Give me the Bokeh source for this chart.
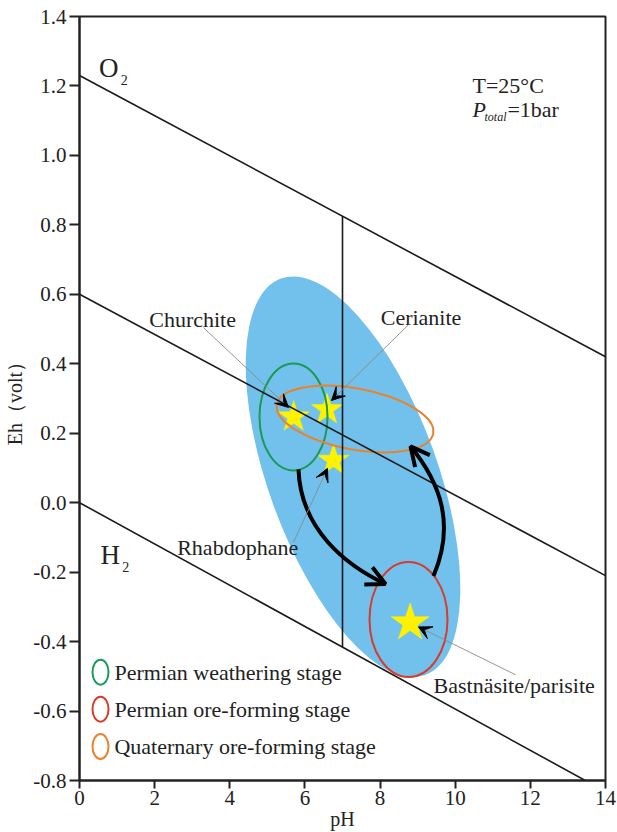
from bokeh.plotting import figure
from bokeh.models import (Arrow, OpenHead, VeeHead, FixedTicker, Label,
                          ColumnDataSource, PrintfTickFormatter)
from bokeh.core.properties import value
from bokeh.embed import file_html
from bokeh.resources import INLINE

SERIF = "Liberation Serif"
TXT = "#222222"

# ---- data ----
# stability boundary lines (pH, Eh)
o2_ph = [0, 14]
o2_eh = [1.23, 0.42]
mid_ph = [0, 14]
mid_eh = [0.60, -0.21]
h2_ph = [0, 14]
h2_eh = [0.0, -0.832]
vert_ph = [7.0, 7.0]
vert_eh = [-0.416, 0.825]

# minerals (stars)
mineral_names = ["Churchite", "Cerianite", "Rhabdophane", "Bastnäsite/parisite"]
mineral_ph = [5.70, 6.59, 6.76, 8.80]
mineral_eh = [0.247, 0.268, 0.122, -0.346]
mineral_size = [33, 33, 33, 40]

# mineral label positions and leader-line starts
label_ph = [3.01, 9.09, 4.21, 11.57]
label_eh = [0.527, 0.534, -0.128, -0.527]
leader_ph0 = [3.30, 8.757, 5.696, 11.605]
leader_eh0 = [0.504, 0.5125, -0.1136, -0.4956]
leader_ph1 = [5.563, 6.707, 6.601, 9.023]
leader_eh1 = [0.2742, 0.2943, 0.0989, -0.3577]

# field (blue), stage ellipses (center pH, Eh; size in px; angle rad)
field_ph, field_eh, field_w, field_h, field_ang = 7.28, 0.0746, 422, 169, -1.2217
stage_names = ["Permian weathering stage", "Permian ore-forming stage",
               "Quaternary ore-forming stage"]
stage_colors = ["#1a9a55", "#d93a2b", "#e8822e"]
stage_ph = [5.696, 8.757, 7.333]
stage_eh = [0.2469, -0.3362, 0.2411]
stage_w = [68, 78, 159]
stage_h = [107, 115, 61]
stage_ang = [0.0, 0.0, -0.185]

# evolution arrows (cubic bezier: start, ctrl1, ctrl2, end)
evo_x0 = [5.829, 9.422]
evo_y0 = [0.0961, -0.2112]
evo_cx0 = [5.882, 10.008]
evo_cy0 = [-0.0762, -0.0619]
evo_cx1 = [7.080, 9.609]
evo_cy1 = [-0.1796, 0.0559]
evo_x1 = [8.145, 8.810]
evo_y1 = [-0.2342, 0.1622]

x_ticks = [0, 2, 4, 6, 8, 10, 12, 14]
y_ticks = [-0.8, -0.6, -0.4, -0.2, 0.0, 0.2, 0.4, 0.6, 0.8, 1.0, 1.2, 1.4]

p = figure(width=617, height=832, x_range=(0, 14), y_range=(-0.8, 1.4),
           output_backend="svg", toolbar_location=None,
           min_border_left=79, min_border_right=12, min_border_top=16,
           min_border_bottom=50)
p.xgrid.visible = False
p.ygrid.visible = False
p.background_fill_color = "white"
p.border_fill_color = "white"
p.outline_line_color = "#222222"
p.outline_line_width = 2

for ax in (p.xaxis[0], p.yaxis[0]):
    ax.axis_line_width = 2
    ax.axis_line_color = "#222222"
    ax.major_tick_line_width = 2
    ax.major_tick_line_color = "#222222"
    ax.major_tick_in = 0
    ax.minor_tick_in = 0
    ax.minor_tick_out = 0
    ax.major_label_text_font = SERIF
    ax.major_label_text_font_size = "21px"
    ax.major_label_text_color = TXT
    ax.axis_label_text_font = SERIF
    ax.axis_label_text_font_size = "20px"
    ax.axis_label_text_font_style = "normal"
    ax.axis_label_text_color = TXT

p.xaxis.ticker = FixedTicker(ticks=x_ticks)
p.yaxis.ticker = FixedTicker(ticks=y_ticks)
p.yaxis.formatter = PrintfTickFormatter(format="%.1f")
p.xaxis.major_tick_out = 8
p.yaxis.major_tick_out = 10
p.xaxis.major_label_standoff = 2
p.yaxis.major_label_standoff = 3
p.xaxis.axis_label = "pH"
p.yaxis.axis_label = "Eh（volt）"
p.xaxis.axis_label_standoff = 0
p.yaxis.axis_label_standoff = 4

# blue field
p.ellipse(x=[field_ph], y=[field_eh], width=[field_w], height=[field_h],
          angle=[field_ang], width_units="screen", height_units="screen",
          fill_color="#71c1ec", line_color=None)

# stars
p.scatter(x=mineral_ph, y=mineral_eh, size=mineral_size, marker="star",
          fill_color="#fff200", line_color="#fff200", line_width=0.5)

# stage ellipses
p.ellipse(x=stage_ph, y=stage_eh, width=stage_w, height=stage_h,
          angle=stage_ang, width_units="screen", height_units="screen",
          fill_color=None, line_color=stage_colors, line_width=2)

# boundary lines
for xs, ys in ((o2_ph, o2_eh), (mid_ph, mid_eh), (h2_ph, h2_eh), (vert_ph, vert_eh)):
    p.line(xs, ys, line_color="#1a1a1a", line_width=1.6)

# evolution arrows
p.bezier(x0=evo_x0, y0=evo_y0, x1=evo_x1, y1=evo_y1, cx0=evo_cx0, cy0=evo_cy0,
         cx1=evo_cx1, cy1=evo_cy1, line_color="black", line_width=4)
for i in range(len(evo_x0)):
    p.add_layout(Arrow(end=OpenHead(size=19, line_width=4, line_color="black"),
                       x_start=evo_cx1[i], y_start=evo_cy1[i],
                       x_end=evo_x1[i], y_end=evo_y1[i], line_alpha=0))

# leader lines with arrowheads
for i in range(len(mineral_names)):
    p.add_layout(Arrow(end=VeeHead(size=13, fill_color="black", line_color="black",
                                   line_width=1),
                       x_start=leader_ph0[i], y_start=leader_eh0[i],
                       x_end=leader_ph1[i], y_end=leader_eh1[i],
                       line_color="#8a8a8a", line_width=0.9))

# mineral labels
src = ColumnDataSource(dict(x=label_ph, y=label_eh, text=mineral_names))
p.text(x="x", y="y", text="text", source=src, text_font=value(SERIF),
       text_font_size="22px", text_align="center", text_baseline="middle",
       text_color=TXT)

# O2 / H2 labels
for base, x, y in (("O", 0.52, 1.252), ("H", 0.56, -0.1495)):
    p.add_layout(Label(x=x, y=y, text=base, text_font=SERIF, text_font_size="27px",
                       text_baseline="middle", text_align="left", text_color=TXT))
    p.add_layout(Label(x=x + 0.58, y=y - 0.036, text="2", text_font=SERIF,
                       text_font_size="14px", text_baseline="middle",
                       text_align="left", text_color=TXT))

# conditions
p.add_layout(Label(x=10.46, y=1.2, text="T=25°C", text_font=SERIF,
                   text_font_size="22px", text_baseline="alphabetic",
                   text_color=TXT))
p.add_layout(Label(x=10.46, y=1.1335, text="P", text_font=SERIF,
                   text_font_size="22px", text_font_style="italic",
                   text_baseline="alphabetic", text_color=TXT))
p.add_layout(Label(x=10.78, y=1.11, text="total", text_font=SERIF,
                   text_font_size="12px", text_font_style="italic",
                   text_baseline="alphabetic", text_color=TXT))
p.add_layout(Label(x=11.39, y=1.1335, text="=1bar", text_font=SERIF,
                   text_font_size="22px", text_baseline="alphabetic",
                   text_color=TXT))

# legend
leg_ph = 0.559
leg_eh = [-0.488, -0.5946, -0.7023]
p.ellipse(x=[leg_ph] * 3, y=leg_eh, width=16, height=25, width_units="screen",
          height_units="screen", fill_color=None, line_color=stage_colors,
          line_width=2)
lsrc = ColumnDataSource(dict(x=[0.93] * 3, y=leg_eh, text=stage_names))
p.text(x="x", y="y", text="text", source=lsrc, text_font=value(SERIF),
       text_font_size="22px", text_align="left", text_baseline="middle",
       text_color=TXT)

open("out.html", "w").write(file_html(p, INLINE))
